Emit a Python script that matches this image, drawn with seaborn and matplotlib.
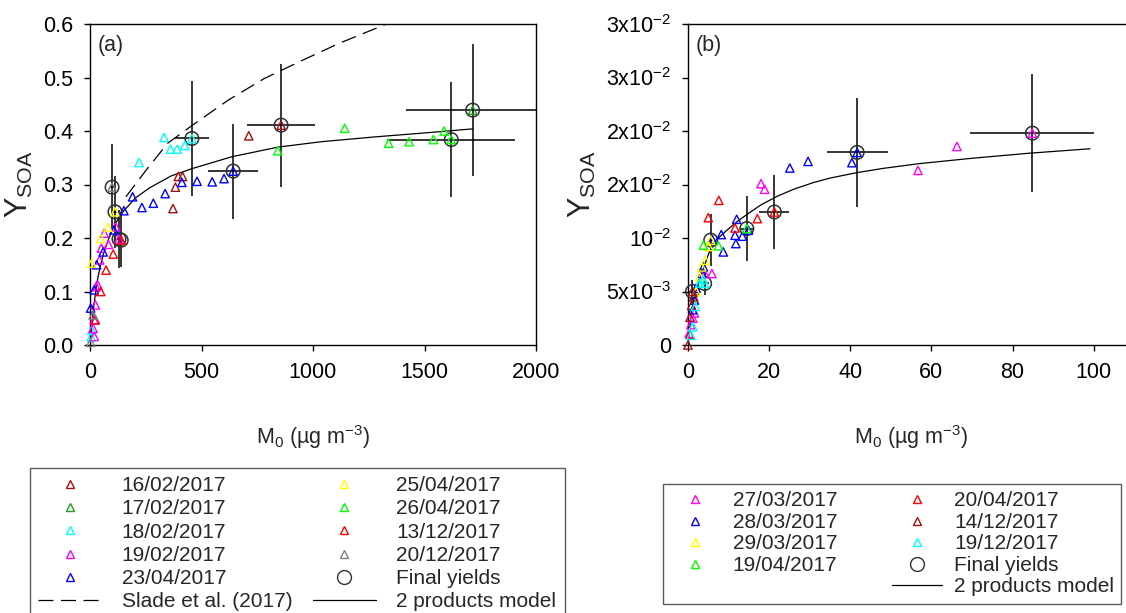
import numpy as np
import pandas as pd
import matplotlib
matplotlib.use('Agg')
import matplotlib.pyplot as plt
from matplotlib.lines import Line2D
import seaborn as sns

# ---- panel (a) ----
a_dates = ['16/02/2017', '17/02/2017', '18/02/2017', '19/02/2017', '23/04/2017',
           '25/04/2017', '26/04/2017', '13/12/2017', '20/12/2017']
a_colors = ['#A01010', '#1E9E1E', '#00FFFF', '#FF00FF', '#0000FF',
            '#FFFF00', '#00FF00', '#FF0000', '#808080']
a_m0 = [
    [372, 383, 396, 415, 712],
    [],
    [5, 8, 220, 332, 361, 391, 425],
    [14, 19, 19, 24, 27, 35, 43, 51, 64, 83, 115],
    [3, 19, 30, 59, 107, 152, 191, 233, 284, 337, 412, 480, 548, 601],
    [8, 48, 80],
    [842, 1142, 1339, 1431, 1540, 1588],
    [24, 48, 72, 104],
    [3, 14],
]
a_y = [
    [0.255, 0.295, 0.315, 0.315, 0.391],
    [],
    [0.015, 0.028, 0.341, 0.388, 0.366, 0.366, 0.373],
    [0.031, 0.016, 0.047, 0.075, 0.109, 0.112, 0.159, 0.181, 0.209, 0.188, 0.221],
    [0.069, 0.103, 0.150, 0.174, 0.215, 0.251, 0.277, 0.257, 0.265, 0.283, 0.304, 0.306, 0.305, 0.311],
    [0.153, 0.199, 0.220],
    [0.363, 0.405, 0.377, 0.380, 0.384, 0.400],
    [0.047, 0.100, 0.140, 0.170],
    [0.005, 0.056],
]
# final yields, same order as a_dates
a_fin_m0 = [857, 1716, 457, 130, 642, 112, 1620, 140, 99]
a_fin_y = [0.411, 0.439, 0.386, 0.198, 0.325, 0.249, 0.384, 0.196, 0.295]
a_fin_xerr = [151, 300, 78, 8, 112, 8, 287, 8, 8]
a_fin_yerr = [0.115, 0.124, 0.107, 0.055, 0.089, 0.067, 0.107, 0.050, 0.080]

a_model_m0 = [0, 8, 15, 30, 45, 60, 85, 112, 150, 204, 268, 364, 460, 637, 845, 1038, 1278, 1519, 1716]
a_model_y = [0, 0.030, 0.065, 0.115, 0.145, 0.170, 0.200, 0.226, 0.250, 0.275, 0.294, 0.316,
             0.330, 0.352, 0.370, 0.380, 0.389, 0.397, 0.404]
a_slade_m0 = [161, 252, 348, 460, 621, 781, 957, 1118, 1318, 1450]
a_slade_y = [0.277, 0.327, 0.377, 0.411, 0.458, 0.498, 0.533, 0.564, 0.598, 0.620]

# ---- panel (b) ----
b_dates = ['27/03/2017', '28/03/2017', '29/03/2017', '19/04/2017',
           '20/04/2017', '14/12/2017', '19/12/2017']
b_colors = ['#FF00FF', '#0000FF', '#FFFF00', '#00FF00', '#FF0000', '#A01010', '#00FFFF']
b_m0 = [
    [0.3, 0.7, 1.2, 1.6, 4.1, 5.9, 18.0, 18.9, 56.7, 66.3],
    [1.2, 1.6, 2.0, 3.4, 3.8, 6.0, 8.2, 8.7, 11.6, 11.8, 12.0, 13.4, 14.9, 25.1, 29.6, 40.4],
    [2.0, 2.9, 3.4, 4.3, 5.1],
    [3.8, 7.5],
    [0.5, 5.0, 7.6, 11.6, 17.1],
    [0.0, 0.5, 0.9, 1.4],
    [0.7, 1.2, 1.8, 2.9, 3.8],
]
b_y = [
    [0.0011, 0.0019, 0.0025, 0.0030, 0.00668, 0.00668, 0.01508, 0.01455, 0.01632, 0.01856],
    [0.0033, 0.0042, 0.0053, 0.0067, 0.0073, 0.00986, 0.01032, 0.0087, 0.01026, 0.00948,
     0.01175, 0.01017, 0.01073, 0.01654, 0.01716, 0.01704],
    [0.0050, 0.0064, 0.0073, 0.00793, 0.0092],
    [0.00933, 0.00927],
    [0.0010, 0.0119, 0.01352, 0.01094, 0.01181],
    [0.0, 0.0026, 0.0037, 0.0045],
    [0.0009, 0.0017, 0.0036, 0.0058, 0.0061],
]
b_fin_m0 = [84.9, 41.7, 5.6, 14.5, 21.3, 1.1, 4.1]
b_fin_y = [0.0198, 0.0180, 0.0098, 0.01088, 0.01243, 0.0050, 0.00575]
b_fin_xerr = [15.3, 7.5, 0.5, 1.7, 3.7, 0.8, 1.0]
b_fin_yerr = [0.0055, 0.0051, 0.0024, 0.0030, 0.0035, 0.0011, 0.0011]

b_model_m0 = [0, 0.9, 2.0, 3.4, 5.1, 6.9, 9.6, 12.0, 14.9, 18.0, 22.0, 26.0, 30.9, 35.0, 41.5,
              48.0, 57.0, 70.0, 84.0, 99.1]
b_model_y = [0, 0.0033, 0.0051, 0.0067, 0.00855, 0.0098, 0.01073, 0.0115, 0.0123, 0.0131,
             0.0139, 0.01455, 0.01518, 0.0156, 0.0161, 0.0165, 0.01695, 0.01745, 0.01792, 0.01834]

b_yticks = [0, 0.005, 0.010, 0.015, 0.020, 0.025, 0.030]
b_yticklabels = ['0', r'$\mathregular{5x10^{-3}}$', r'$\mathregular{10^{-2}}$',
                 r'$\mathregular{2x10^{-2}}$', r'$\mathregular{2x10^{-2}}$',
                 r'$\mathregular{3x10^{-2}}$', r'$\mathregular{3x10^{-2}}$']

sns.set_style('ticks')
plt.rcParams['font.family'] = ['Liberation Sans', 'DejaVu Sans']
plt.rcParams['mathtext.fontset'] = 'custom'
plt.rcParams['mathtext.rm'] = 'Liberation Sans'

fig = plt.figure(figsize=(11.26, 6.13), dpi=100)
W, H = 1126, 613
ax_a = fig.add_axes([90 / W, 1 - 345 / H, 446 / W, 321 / H])
# panel (b) runs past the right edge of the picture, as in the original
ax_b = fig.add_axes([688 / W, 1 - 345 / H, 447 / W, 321 / H])

TRI = 36
CIRC = 95


def draw_panel(ax, dates, colors, m0, y, fin_m0, fin_y, fin_xerr, fin_yerr, model_m0, model_y):
    sns.lineplot(x=model_m0, y=model_y, sort=False, estimator=None, color='black',
                 linewidth=0.9, ax=ax)
    ax.errorbar(fin_m0, fin_y, xerr=fin_xerr, yerr=fin_yerr, fmt='none',
                ecolor='black', elinewidth=1.1, capsize=0, zorder=3)
    sns.scatterplot(x=fin_m0, y=fin_y, marker='o', s=CIRC, fc='none', ec='#303030',
                    linewidth=1.1, ax=ax, zorder=4, clip_on=False)
    for i, d in enumerate(dates):
        xs = m0[i] + [fin_m0[i]]
        ys = y[i] + [fin_y[i]]
        sns.scatterplot(x=xs, y=ys, marker='^', s=TRI, fc='none', ec=colors[i],
                        linewidth=1.0, ax=ax, zorder=5, clip_on=False)


draw_panel(ax_a, a_dates, a_colors, a_m0, a_y, a_fin_m0, a_fin_y, a_fin_xerr, a_fin_yerr,
           a_model_m0, a_model_y)
sns.lineplot(x=a_slade_m0, y=a_slade_y, sort=False, estimator=None, color='black',
             linewidth=0.9, linestyle=(0, (12, 6)), ax=ax_a)
draw_panel(ax_b, b_dates, b_colors, b_m0, b_y, b_fin_m0, b_fin_y, b_fin_xerr, b_fin_yerr,
           b_model_m0, b_model_y)

ax_a.set_xlim(0, 2000)
ax_a.set_ylim(0, 0.6)
ax_a.set_xticks([0, 500, 1000, 1500, 2000])
ax_a.set_yticks([0, 0.1, 0.2, 0.3, 0.4, 0.5, 0.6])
ax_a.set_yticklabels(['0.0', '0.1', '0.2', '0.3', '0.4', '0.5', '0.6'])

ax_b.set_xlim(0, 110.2)
ax_b.set_ylim(0, 0.03)
ax_b.set_xticks([0, 20, 40, 60, 80, 100])
ax_b.set_yticks(b_yticks)
ax_b.set_yticklabels(b_yticklabels)

xlab = r'M$_\mathregular{0}$ (µg m$^\mathregular{-3}$)'
ylab = r'Y$_\mathregular{SOA}$'
for ax, tag in [(ax_a, '(a)'), (ax_b, '(b)')]:
    for s in ax.spines.values():
        s.set_visible(True)
        s.set_linewidth(1.0)
        s.set_color('black')
    ax.tick_params(direction='out', length=4, width=1, labelsize=15.5, pad=8, colors='black')
    ax.set_xlabel(xlab, fontsize=15.5, labelpad=29)
    ax.set_ylabel(ylab, fontsize=22, labelpad=6)
    ax.text(0.016, 0.965, tag, transform=ax.transAxes, fontsize=15.5, va='top', ha='left')


def tri(c):
    return Line2D([], [], marker='^', ls='none', mfc='none', mec=c, ms=6, mew=1)


circ_h = Line2D([], [], marker='o', ls='none', mfc='none', mec='#303030', ms=10, mew=1)
model_h = Line2D([], [], color='black', lw=0.9)
slade_h = Line2D([], [], color='black', lw=0.9, linestyle=(0, (12, 6)))
blank_h = Line2D([], [], ls='none')

leg_a_h = [tri(c) for c in a_colors[:5]] + [slade_h] + [tri(c) for c in a_colors[5:]] + [circ_h, model_h]
leg_a_l = a_dates[:5] + ['Slade et al. (2017)'] + a_dates[5:] + ['Final yields', '2 products model']
leg_a = fig.legend(leg_a_h, leg_a_l, loc='upper left', bbox_to_anchor=(30 / W, 1 - 468 / H),
                   ncol=2, fontsize=15, frameon=True, fancybox=False, borderaxespad=0,
                   borderpad=0.4, handlelength=3.0, handletextpad=1.0, columnspacing=1.0,
                   labelspacing=0.2)
leg_a.get_frame().set_edgecolor('#303030')
leg_a.get_frame().set_linewidth(1.0)

leg_b_h = [tri(c) for c in b_colors[:4]] + [blank_h] + [tri(c) for c in b_colors[4:]] + [circ_h, model_h]
leg_b_l = b_dates[:4] + [''] + b_dates[4:] + ['Final yields', '2 products model']
leg_b = fig.legend(leg_b_h, leg_b_l, loc='upper left', bbox_to_anchor=(663 / W, 1 - 484 / H),
                   ncol=2, fontsize=15, frameon=True, fancybox=False, borderaxespad=0,
                   borderpad=0.35, handlelength=2.4, handletextpad=0.6, columnspacing=2.6,
                   labelspacing=0.12)
leg_b.get_frame().set_edgecolor('#303030')
leg_b.get_frame().set_linewidth(1.0)

fig.savefig('out.png', dpi=100)
